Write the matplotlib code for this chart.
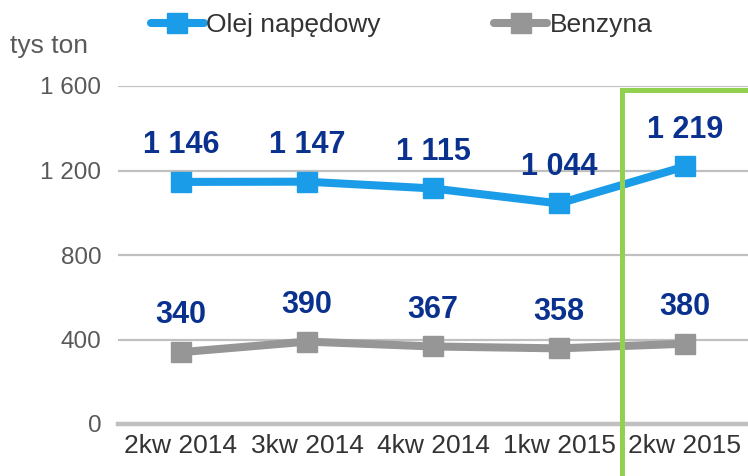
import matplotlib
matplotlib.use("Agg")
import matplotlib.pyplot as plt
from matplotlib.patches import Rectangle
from matplotlib.ticker import FuncFormatter

plt.rcParams['font.family'] = ['Liberation Sans', 'DejaVu Sans']

# === dane ===
kwartaly = ['2kw 2014', '3kw 2014', '4kw 2014', '1kw 2015', '2kw 2015']
olej = [1146, 1147, 1115, 1044, 1219]
benzyna = [340, 390, 367, 358, 380]
y_ticks = [0, 400, 800, 1200, 1600]

BLUE = '#1B9CE8'
GRAY = '#969696'
NAVY = '#0B318F'
GREEN = '#92D050'

def fmt_space(v, pos=None):
    return f"{int(v):,}".replace(",", " ")

fig = plt.figure(figsize=(7.48, 4.76), dpi=100)
ax = fig.add_axes([118 / 748, 52 / 476, 630 / 748, 338 / 476])

x = list(range(len(kwartaly)))
ax.plot(x, olej, color=BLUE, lw=5.8, marker='s', ms=14.4, label='Olej napędowy',
        solid_capstyle='round', zorder=3)
ax.plot(x, benzyna, color=GRAY, lw=5.8, marker='s', ms=14.4, label='Benzyna',
        solid_capstyle='round', zorder=3)

# etykiety wartosci
for xi, v in zip(x, olej):
    ax.annotate(fmt_space(v), (xi, v), xytext=(0, 26.5), textcoords='offset points',
                ha='center', va='center', fontsize=22, fontweight='bold', color=NAVY,
                annotation_clip=False)
for xi, v in zip(x, benzyna):
    ax.annotate(fmt_space(v), (xi, v), xytext=(0, 26.5), textcoords='offset points',
                ha='center', va='center', fontsize=22, fontweight='bold', color=NAVY,
                annotation_clip=False)

ax.set_xlim(-0.5, 4.5)
ax.set_ylim(0, 1600)
ax.set_yticks(y_ticks)
ax.yaxis.set_major_formatter(FuncFormatter(fmt_space))
ax.set_xticks(x)
ax.set_xticklabels(kwartaly)
ax.tick_params(axis='y', length=0, pad=12, labelsize=17.5, labelcolor='#595959')
ax.tick_params(axis='x', length=0, pad=7, labelsize=19, labelcolor='#333333')

for s in ax.spines.values():
    s.set_visible(False)
ax.grid(axis='y', color='#C0C0C0', lw=1.6, zorder=0)
ax.set_axisbelow(True)
ax.axhline(0, color='#C0C0C0', lw=3.2, zorder=1, clip_on=False)

# ramka wokol ostatniego kwartalu
rect = Rectangle((3.5, -400), 1.3, 1581 + 400, fill=False, edgecolor=GREEN,
                 lw=3.6, zorder=4, clip_on=False)
ax.add_patch(rect)

fig.text(10 / 748, 1 - 46 / 476, 'tys ton', fontsize=19, color='#595959',
         ha='left', va='center')

fig.legend(loc='center', bbox_to_anchor=(0.537, 1 - 25 / 476), ncol=2, frameon=False,
           fontsize=19, handlelength=2.0, handletextpad=0.1, columnspacing=4.3,
           labelcolor='#333333')

fig.savefig('out.png', dpi=100)
